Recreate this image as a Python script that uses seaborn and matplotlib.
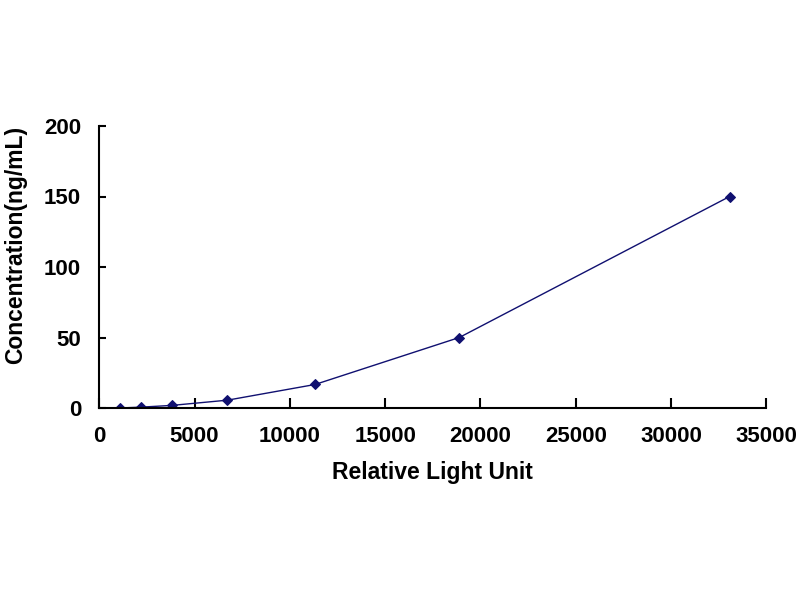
import matplotlib
matplotlib.use("Agg")
import matplotlib.pyplot as plt
import seaborn as sns
import pandas as pd

# standard curve values
rlu = [1080, 2210, 3820, 6730, 11320, 18890, 33070]
concentration = [0, 0.62, 1.85, 5.56, 16.67, 50, 150]

x_ticks = [0, 5000, 10000, 15000, 20000, 25000, 30000, 35000]
y_ticks = [0, 50, 100, 150, 200]

data = pd.DataFrame({"RLU": rlu, "Concentration": concentration})

sns.set_style("white")
plt.rcParams['font.family'] = ['Liberation Sans', 'DejaVu Sans']

fig = plt.figure(figsize=(8, 6), dpi=100)
ax = fig.add_axes([0.124, 0.32, 0.834, 0.470])

navy = "#101070"
sns.lineplot(data=data, x="RLU", y="Concentration", ax=ax, color=navy,
             linewidth=1.0, marker="D", markersize=5.5, markeredgecolor=navy,
             markerfacecolor=navy)

ax.set_xlim(0, 35000)
ax.set_ylim(0, 200)
ax.set_xticks(x_ticks)
ax.set_yticks(y_ticks)
ax.tick_params(bottom=True, left=True, direction="in", width=1.5,
               color="black", labelcolor="black", labelsize=16)
ax.tick_params(axis="x", length=7, pad=13)
ax.tick_params(axis="y", length=5, pad=13)
for lab in ax.get_xticklabels() + ax.get_yticklabels():
    lab.set_fontweight("bold")

ax.set_xlabel("Relative Light Unit", fontsize=16.5, fontweight="bold",
              color="black", labelpad=10)
ax.set_ylabel("Concentration(ng/mL)", fontsize=16.5, fontweight="bold",
              color="black")
ax.yaxis.set_label_coords(-0.108, 0.58)

for side in ["top", "right"]:
    ax.spines[side].set_visible(False)
for side in ["left", "bottom"]:
    ax.spines[side].set_linewidth(1.5)
    ax.spines[side].set_color("black")

fig.savefig("out.png", dpi=100)
